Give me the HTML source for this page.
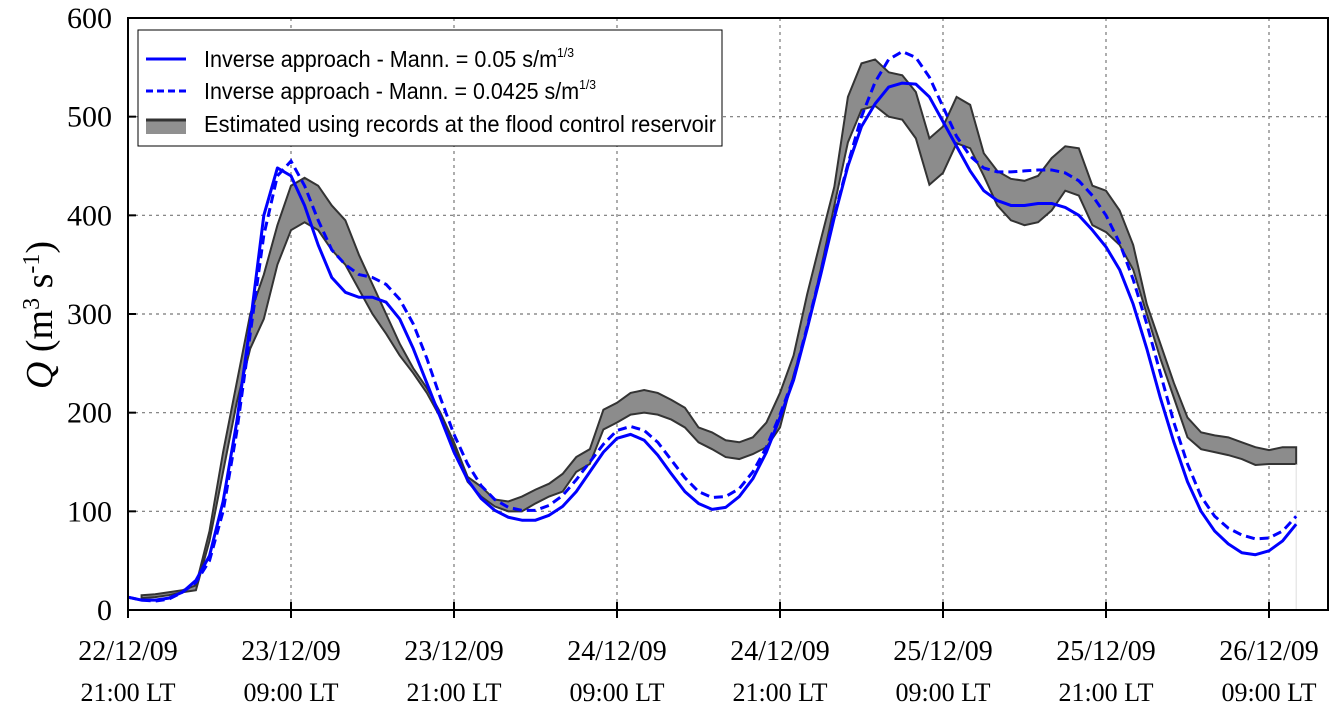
<!DOCTYPE html>
<html><head><meta charset="utf-8"><style>
html,body{margin:0;padding:0;background:#fff;}
svg{display:block;}
</style></head><body>
<svg id="chart" width="1330" height="715" xmlns="http://www.w3.org/2000/svg">
<g id="grid"></g>
<g id="band"></g>
<g id="lines"></g>
<rect x="128" y="18" width="1200" height="592" fill="none" stroke="#000" stroke-width="2"/>
<g id="axes"></g>
<text transform="translate(52,315) rotate(-90)" text-anchor="middle" font-family="Liberation Serif, serif" font-size="38"><tspan font-style="italic">Q</tspan> (m<tspan baseline-shift="super" font-size="24">3</tspan> s<tspan baseline-shift="super" font-size="24">-1</tspan>)</text>
<g>
<rect x="138" y="30" width="584" height="116" fill="#fff" stroke="#000" stroke-width="1"/>
<line x1="146" y1="59" x2="186" y2="59" stroke="#0000ff" stroke-width="3"/>
<text x="204" y="67" font-family="Liberation Sans, sans-serif" font-size="23" textLength="370" lengthAdjust="spacingAndGlyphs">Inverse approach - Mann. = 0.05 s/m<tspan font-size="13" dy="-10">1/3</tspan></text>
<line x1="146" y1="91" x2="186" y2="91" stroke="#0000ff" stroke-width="3" stroke-dasharray="7,4"/>
<text x="204" y="99" font-family="Liberation Sans, sans-serif" font-size="23" textLength="392" lengthAdjust="spacingAndGlyphs">Inverse approach - Mann. = 0.0425 s/m<tspan font-size="13" dy="-10">1/3</tspan></text>
<rect x="146" y="119" width="40" height="15" fill="#909090"/>
<line x1="146" y1="120" x2="186" y2="120" stroke="#333" stroke-width="3"/>
<text x="204" y="132" font-family="Liberation Sans, sans-serif" font-size="23" textLength="512" lengthAdjust="spacingAndGlyphs">Estimated using records at the flood control reservoir</text>
</g>
</svg>
<script>
const hoursA = [];
for (let i = 0; i <= 86; i++) hoursA.push(i);
const solidQ = [13,10,10,12,18,30,55,110,190,290,400,448,440,410,370,337,322,317,317,312,295,265,230,195,160,132,113,101,94,91,91,96,105,120,140,160,174,178,172,157,138,120,108,102,104,115,133,160,195,233,285,340,398,450,490,513,530,534,533,520,495,470,445,425,415,410,410,412,412,408,400,385,368,345,310,265,215,170,130,100,80,67,58,56,60,70,87];
const dashedQ = [13,10,9,11,18,28,50,100,180,280,380,440,455,430,395,365,350,340,337,330,315,290,255,215,178,148,126,112,104,101,101,106,116,132,150,168,182,186,182,170,152,134,120,114,115,123,140,165,198,235,287,342,400,452,500,535,558,566,560,540,510,480,460,448,444,444,445,446,446,443,435,420,400,372,335,290,240,190,148,115,95,83,76,72,73,80,95];
const bandHours = [];
for (let i = 1; i <= 86; i++) bandHours.push(i);
const bandUpper = [15,16,18,20,25,80,160,230,300,340,390,430,438,430,410,395,360,330,300,270,245,225,200,170,135,125,112,110,115,122,128,138,155,163,203,210,220,223,220,213,205,185,180,172,170,175,190,220,258,320,375,429,520,554,558,545,542,525,478,490,520,512,463,445,437,435,440,458,470,468,430,425,405,370,310,270,230,195,180,177,175,170,165,162,165,165];
const bandLower = [12,13,15,18,20,70,140,210,265,295,350,385,393,385,365,350,325,300,280,258,240,220,195,165,130,115,105,100,100,108,115,120,140,148,183,190,198,200,198,193,185,170,163,155,153,158,165,185,238,285,345,410,474,507,511,500,497,478,431,443,473,468,440,410,395,390,393,405,425,420,390,383,370,345,300,255,215,175,163,160,157,153,147,148,148,148];
const yTicks = [0,100,200,300,400,500,600];
const xTickHours = [0,12,24,36,48,60,72,84];
const xTickDates = ["22/12/09","23/12/09","23/12/09","24/12/09","24/12/09","25/12/09","25/12/09","26/12/09"];
const xTickTimes = ["21:00 LT","09:00 LT","21:00 LT","09:00 LT","21:00 LT","09:00 LT","21:00 LT","09:00 LT"];

const NS = "http://www.w3.org/2000/svg";
const X = h => 128 + h * 163 / 12;
const Y = q => 610 - q * 592 / 600;
function mk(tag, attrs, parent) {
  const e = document.createElementNS(NS, tag);
  for (const k in attrs) e.setAttribute(k, attrs[k]);
  parent.appendChild(e);
  return e;
}
const grid = document.getElementById('grid');
const axes = document.getElementById('axes');
yTicks.forEach((v, i) => {
  if (v > 0 && v < 600) {
    const g = mk('line', {x1:128, x2:1328, y1:Y(v), y2:Y(v), stroke:'#777', 'stroke-width':1.2, 'stroke-dasharray':'3,4'}, grid);
    
    
  }
  const t = mk('line', {x1:128, x2:136, y1:Y(v), y2:Y(v), stroke:'#000', 'stroke-width':2}, axes);
  
  
  const l = mk('text', {x:112, y:Y(v) + 10, 'text-anchor':'end', 'font-family':'Liberation Serif, serif', 'font-size':30}, axes);
  l.textContent = v;
  
  
});
xTickHours.forEach((h, i) => {
  if (h > 0) {
    const g = mk('line', {x1:X(h), x2:X(h), y1:18, y2:610, stroke:'#777', 'stroke-width':1.2, 'stroke-dasharray':'3,4'}, grid);
    
    
  }
  const t = mk('line', {x1:X(h), x2:X(h), y1:602, y2:618, stroke:'#000', 'stroke-width':2}, axes);
  
  
  const a = mk('text', {x:X(h), y:660, 'text-anchor':'middle', 'font-family':'Liberation Serif, serif', 'font-size':28}, axes);
  a.textContent = xTickDates[i];
  
  
  const b = mk('text', {x:X(h), y:701, 'text-anchor':'middle', 'font-family':'Liberation Serif, serif', 'font-size':26}, axes);
  b.textContent = xTickTimes[i];
  
  
});
const band = document.getElementById('band');
let d = '';
bandHours.forEach((h, i) => { d += (i ? 'L' : 'M') + X(h) + ',' + Y(bandUpper[i]); });
for (let i = bandHours.length - 1; i >= 0; i--) d += 'L' + X(bandHours[i]) + ',' + Y(bandLower[i]);
const bp = mk('path', {d: d + 'Z', fill:'#8c8c8c', stroke:'#333', 'stroke-width':2}, band);


const lastH = bandHours[bandHours.length - 1];
const vl = mk('line', {x1:X(lastH), x2:X(lastH), y1:Y(bandLower[bandLower.length-1]), y2:Y(0), stroke:'#ddd', 'stroke-width':1}, band);


const lines = document.getElementById('lines');
function poly(arr) { return hoursA.map((h, i) => X(h) + ',' + Y(arr[i])).join(' '); }
const ls = mk('polyline', {points: poly(solidQ), fill:'none', stroke:'#0000ff', 'stroke-width':3, 'stroke-linejoin':'round'}, lines);


const ld = mk('polyline', {points: poly(dashedQ), fill:'none', stroke:'#0000ff', 'stroke-width':3, 'stroke-dasharray':'9,5'}, lines);


</script>
</body></html>
